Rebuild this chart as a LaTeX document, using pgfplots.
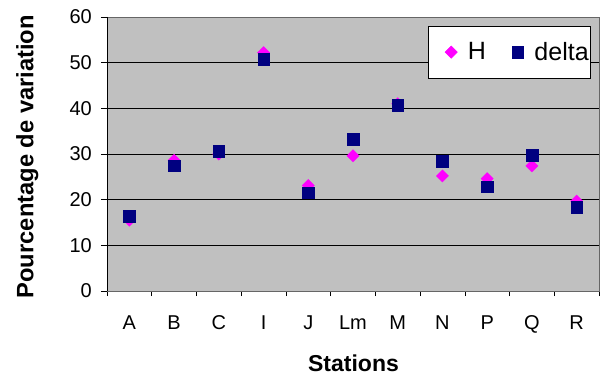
\documentclass[border=0pt]{standalone}
\usepackage{fontspec}
\setmainfont{Liberation Sans}
\usepackage{pgfplots}
\pgfplotsset{compat=1.18}
\definecolor{bggray}{RGB}{192,192,192}
\definecolor{navyblue}{RGB}{0,0,128}
\definecolor{magent}{RGB}{255,0,255}
\begin{document}
\begin{tikzpicture}
\begin{axis}[
  at={(107bp,87bp)}, anchor=south west,
  scale only axis, width=492bp, height=274bp,
  xmin=-0.5, xmax=10.5, ymin=0, ymax=60,
  xtick={0,...,10}, xticklabels={A,B,C,I,J,Lm,M,N,P,Q,R},
  minor xtick={-0.5,0.5,...,10.5},
  ytick={0,10,...,60},
  xtick pos=bottom, ytick pos=left,
  tick align=outside,
  major tick length=6bp, minor tick length=5bp,
  major x tick style={draw=none},
  minor x tick style={black, line width=0.6bp},
  major y tick style={black, line width=0.6bp},
  axis background/.style={fill=bggray},
  axis line style={draw=gray!80!black, line width=0.6bp},
  ymajorgrids, major grid style={black, line width=0.6bp},
  /pgf/number format/assume math mode=true,
  tick label style={font=\fontsize{20bp}{24bp}\selectfont},
  yticklabel style={anchor=east, inner sep=0pt, xshift=-9bp},
  xticklabel style={anchor=base, inner sep=0pt, yshift=-32bp},
  xlabel={Stations},
  xlabel style={font=\fontsize{23bp}{27bp}\selectfont\bfseries,
    at={(axis description cs:0.501,-0.2956)}, anchor=base},
  ylabel={Pourcentage de variation},
  ylabel style={font=\fontsize{23.7bp}{27bp}\selectfont\bfseries,
    at={(axis description cs:-0.1498,0.49)}, anchor=base, rotate=0},
  legend columns=2,
  legend style={at={(0.9837,0.967)}, anchor=north east, draw=black, fill=white,
    line width=0.6bp,
    font=\fontsize{25bp}{30bp}\selectfont, inner xsep=0bp, inner ysep=14bp,
    /tikz/every even column/.append style={column sep=7bp}},
  legend image code/.code={%
    \node[draw=none, fill=none, inner sep=0pt, minimum width=37.5bp, minimum height=2bp, anchor=west] at (0bp,0bp) {};
    \draw[mark repeat=2,mark phase=2,#1] plot coordinates {(0bp,0bp) (23bp,0bp) (37.5bp,0bp)};},
  legend cell align=left,
]
\addplot[only marks, mark=square*, mark size=4.3bp,
  mark options={rotate=45, fill=magent, draw=magent}]
  coordinates {(0,15.5) (1,28.6) (2,30.0) (3,52.2) (4,23.1) (5,29.6) (6,41.0) (7,25.2) (8,24.6) (9,27.4) (10,19.7)};
\addlegendentry{H}
\addplot[only marks, mark=square*, mark size=5.8bp,
  mark options={fill=navyblue, draw=navyblue}]
  coordinates {(0,16.4) (1,27.4) (2,30.6) (3,50.8) (4,21.5) (5,33.2) (6,40.7) (7,28.4) (8,22.8) (9,29.8) (10,18.4)};
\addlegendentry{delta}
\draw[black, line width=0.6bp] (rel axis cs:0,1) -- (rel axis cs:0,0) -- (rel axis cs:1,0);
\end{axis}
\pgfresetboundingbox
\useasboundingbox (0,0) rectangle (601bp,378bp);
\end{tikzpicture}
\end{document}
